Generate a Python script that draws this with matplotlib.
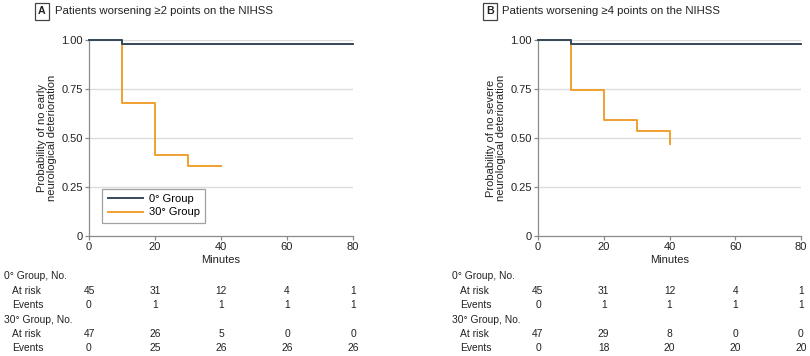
import matplotlib
matplotlib.use("Agg")
import matplotlib.pyplot as plt
from matplotlib.transforms import blended_transform_factory

plt.rcParams['font.family'] = ['Liberation Sans', 'DejaVu Sans']

# ---- data ----
panel_letters = ["A", "B"]
panel_titles = ["Patients worsening \u22652 points on the NIHSS",
                "Patients worsening \u22654 points on the NIHSS"]
ylabels = ["Probability of no early\nneurological deterioration",
           "Probability of no severe\nneurological deterioration"]
group_names = ["0\u00b0 Group", "30\u00b0 Group"]

times_0 = [0, 10, 80]
surv_0_A = [1.0, 0.978, 0.978]
surv_0_B = [1.0, 0.978, 0.978]
times_30 = [0, 10, 20, 30, 40]
surv_30_A = [1.0, 0.68, 0.415, 0.355, 0.355]
surv_30_B = [1.0, 0.745, 0.59, 0.535, 0.47]

risk_times = [0, 20, 40, 60, 80]
atrisk_0_A = [45, 31, 12, 4, 1]
events_0_A = [0, 1, 1, 1, 1]
atrisk_30_A = [47, 26, 5, 0, 0]
events_30_A = [0, 25, 26, 26, 26]
atrisk_0_B = [45, 31, 12, 4, 1]
events_0_B = [0, 1, 1, 1, 1]
atrisk_30_B = [47, 29, 8, 0, 0]
events_30_B = [0, 18, 20, 20, 20]

yticks = [0, 0.25, 0.5, 0.75, 1.0]
yticklabels = ["0", "0.25", "0.50", "0.75", "1.00"]
xticks = [0, 20, 40, 60, 80]

c0 = "#34495a"
c30 = "#f0a030"
gray = "#8a8a8a"
txt = "#222222"

W, H = 810, 356
fig = plt.figure(figsize=(W/100, H/100), dpi=100)

panels = [
    dict(left=89, right=353, letter_x=33, title_x=55, tab_x=4,
         s0=surv_0_A, s30=surv_30_A,
         rows=(atrisk_0_A, events_0_A, atrisk_30_A, events_30_A), legend=True),
    dict(left=538, right=801, letter_x=481, title_x=502, tab_x=452,
         s0=surv_0_B, s30=surv_30_B,
         rows=(atrisk_0_B, events_0_B, atrisk_30_B, events_30_B), legend=False),
]
top, bottom = 40, 236
fs_tick = 8.0
fs_lab = 8.0
fs_title = 8.2
fs_tab = 7.4

for i, p in enumerate(panels):
    ax = fig.add_axes([p['left']/W, 1-bottom/H, (p['right']-p['left'])/W, (bottom-top)/H])
    ax.set_xlim(0, 80)
    ax.set_ylim(0, 1.0)
    for y in yticks[1:]:
        ax.axhline(y, color="#dcdcdc", lw=1.0, zorder=0)
    ax.step(times_0, p['s0'], where='post', color=c0, lw=1.4, clip_on=False, zorder=3, label=group_names[0])
    ax.step(times_30, p['s30'], where='post', color=c30, lw=1.4, clip_on=False, zorder=2, label=group_names[1])
    for s in ['top', 'right']:
        ax.spines[s].set_visible(False)
    for s in ['left', 'bottom']:
        ax.spines[s].set_color(gray)
        ax.spines[s].set_linewidth(0.9)
    ax.set_xticks(xticks)
    ax.set_yticks(yticks)
    ax.set_yticklabels(yticklabels)
    ax.tick_params(axis='both', colors=gray, labelcolor=txt, labelsize=fs_tick, length=3, width=0.9, pad=1.5)
    ax.set_xlabel("Minutes", fontsize=fs_lab, color=txt, labelpad=2)
    ax.set_ylabel(ylabels[i], fontsize=fs_lab, color=txt, labelpad=3, linespacing=1.0)
    if p['legend']:
        leg = ax.legend(loc='lower left', bbox_to_anchor=(13/264, 13/196), fontsize=fs_lab,
                        frameon=True, fancybox=False, edgecolor=gray, handlelength=3.2,
                        handletextpad=0.5, borderpad=0.5, labelspacing=0.3, borderaxespad=0)
        leg.get_frame().set_linewidth(0.9)

    # title with letter box
    ty = 1 - 11.5/H
    fig.text((p['letter_x']+9)/W, ty, panel_letters[i], ha='center', va='center',
             fontsize=fs_title-0.5, fontweight='bold', color=txt,
             bbox=dict(boxstyle='square,pad=0.3', fc='white', ec="#444444", lw=0.9))
    fig.text(p['title_x']/W, ty, panel_titles[i], ha='left', va='center', fontsize=fs_title, color=txt)

    # risk table
    tr = blended_transform_factory(ax.transData, fig.transFigure)
    row_y = [276, 291.5, 305, 320, 334, 348]
    fig.text(p['tab_x']/W, 1-row_y[0]/H, group_names[0] + ", No.", ha='left', va='center', fontsize=fs_tab, color=txt)
    fig.text(p['tab_x']/W, 1-row_y[3]/H, group_names[1] + ", No.", ha='left', va='center', fontsize=fs_tab, color=txt)
    labels_rows = ["At risk", "Events", "At risk", "Events"]
    for lab, vals, yy in zip(labels_rows, p['rows'], [row_y[1], row_y[2], row_y[4], row_y[5]]):
        fig.text((p['tab_x']+8)/W, 1-yy/H, lab, ha='left', va='center', fontsize=fs_tab, color=txt)
        for t, v in zip(risk_times, vals):
            ax.text(t, 1-yy/H, str(v), transform=tr, ha='center', va='center', fontsize=fs_tab, color=txt)

fig.savefig("out.png", dpi=100)
